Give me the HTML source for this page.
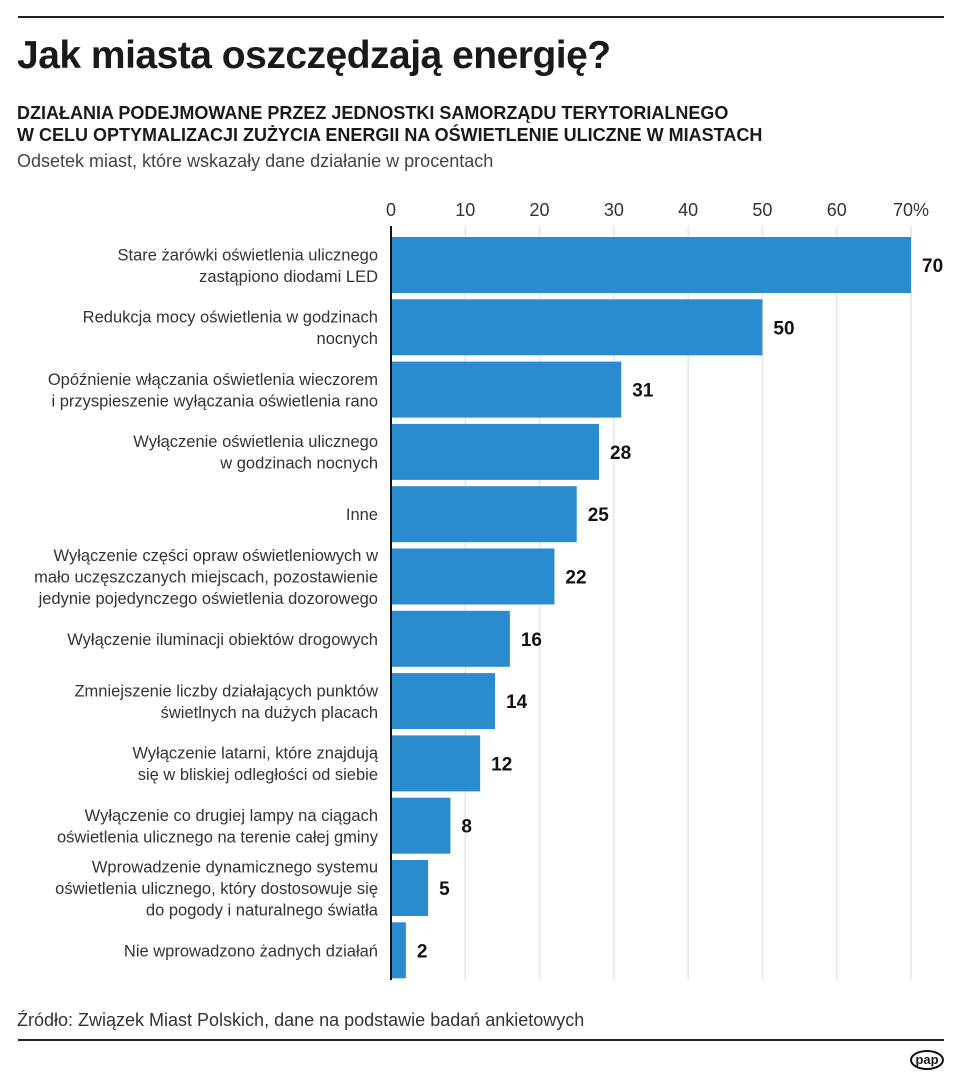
<!DOCTYPE html>
<html><head><meta charset="utf-8"><style>
body{margin:0;background:#fff;width:962px;height:1080px;overflow:hidden;font-family:"Liberation Sans",sans-serif;color:#1a1a1a}
.abs{position:absolute}
</style></head><body>
<div class="abs" style="left:18px;top:16px;width:926px;height:2px;background:#222"></div>
<div class="abs" style="left:17px;top:34px;font-size:39px;font-weight:bold;letter-spacing:-0.5px">Jak miasta oszczędzają energię?</div>
<div class="abs" style="left:17px;top:102px;font-size:18px;font-weight:bold;line-height:22px">DZIAŁANIA PODEJMOWANE PRZEZ JEDNOSTKI SAMORZĄDU TERYTORIALNEGO<br>W CELU OPTYMALIZACJI ZUŻYCIA ENERGII NA OŚWIETLENIE ULICZNE W MIASTACH</div>
<div class="abs" style="left:17px;top:151px;font-size:18px;color:#444">Odsetek miast, które wskazały dane działanie w procentach</div>
<svg class="abs" style="left:0;top:0" width="962" height="1080" id="chart"></svg>
<div class="abs" style="left:17px;top:1010px;font-size:18px;color:#333">Źródło: Związek Miast Polskich, dane na podstawie badań ankietowych</div>
<div class="abs" style="left:18px;top:1039px;width:926px;height:2px;background:#222"></div>
<div class="abs" style="left:910px;top:1050px;width:34px;height:20px;border:2px solid #111;border-radius:50%;box-sizing:border-box;font-size:13px;font-weight:bold;text-align:center;line-height:16px">pap</div>
<script>
const categories=[["Stare żarówki oświetlenia ulicznego","zastąpiono diodami LED"],["Redukcja mocy oświetlenia w godzinach","nocnych"],["Opóźnienie włączania oświetlenia wieczorem","i przyspieszenie wyłączania oświetlenia rano"],["Wyłączenie oświetlenia ulicznego","w godzinach nocnych"],["Inne"],["Wyłączenie części opraw oświetleniowych w","mało uczęszczanych miejscach, pozostawienie","jedynie pojedynczego oświetlenia dozorowego"],["Wyłączenie iluminacji obiektów drogowych"],["Zmniejszenie liczby działających punktów","świetlnych na dużych placach"],["Wyłączenie latarni, które znajdują","się w bliskiej odległości od siebie"],["Wyłączenie co drugiej lampy na ciągach","oświetlenia ulicznego na terenie całej gminy"],["Wprowadzenie dynamicznego systemu","oświetlenia ulicznego, który dostosowuje się","do pogody i naturalnego światła"],["Nie wprowadzono żadnych działań"]];
const values=[70,50,31,28,25,22,16,14,12,8,5,2];
const ticks=[0,10,20,30,40,50,60,70];
const tickLabels=["0","10","20","30","40","50","60","70%"];
const svg=document.getElementById('chart');
const NS="http://www.w3.org/2000/svg";
const x0=391,pxPer=520/70,top0=237,step=62.3,bh=56;
const xs=v=>x0+v*pxPer;
const ys=i=>top0+i*step;
function mk(t,a){const e=document.createElementNS(NS,t);for(const k in a)e.setAttribute(k,a[k]);svg.appendChild(e);return e;}
ticks.forEach((t,i)=>{
 if(t>0){const g=mk('line',{x1:xs(t),x2:xs(t),y1:226,y2:980,stroke:'#e6e6e6','stroke-width':1.5});
 
 }
 const tx=mk('text',{x:xs(t),y:216,'text-anchor':'middle','font-size':18,fill:'#333'});
 tx.textContent=tickLabels[i];
 
 
});
values.forEach((v,i)=>{
 const r=mk('rect',{x:x0+1,y:ys(i),width:xs(v)-x0-1,height:bh,fill:'#2a8ccf'});
 
 
 const vl=mk('text',{x:xs(v)+11,y:ys(i)+bh/2+7,'font-size':19,'font-weight':'bold',fill:'#111'});
 vl.textContent=v;
 
 
 const lines=categories[i],n=lines.length,lh=21.5;
 lines.forEach((l,j)=>{
  const t=mk('text',{x:378,y:ys(i)+bh/2+6+(j-(n-1)/2)*lh,'text-anchor':'end','font-size':16.5,fill:'#333'});
  t.textContent=l;
  
  
 });
});
const ax=mk('line',{x1:x0,x2:x0,y1:226,y2:980,stroke:'#111','stroke-width':2});


</script>
</body></html>
